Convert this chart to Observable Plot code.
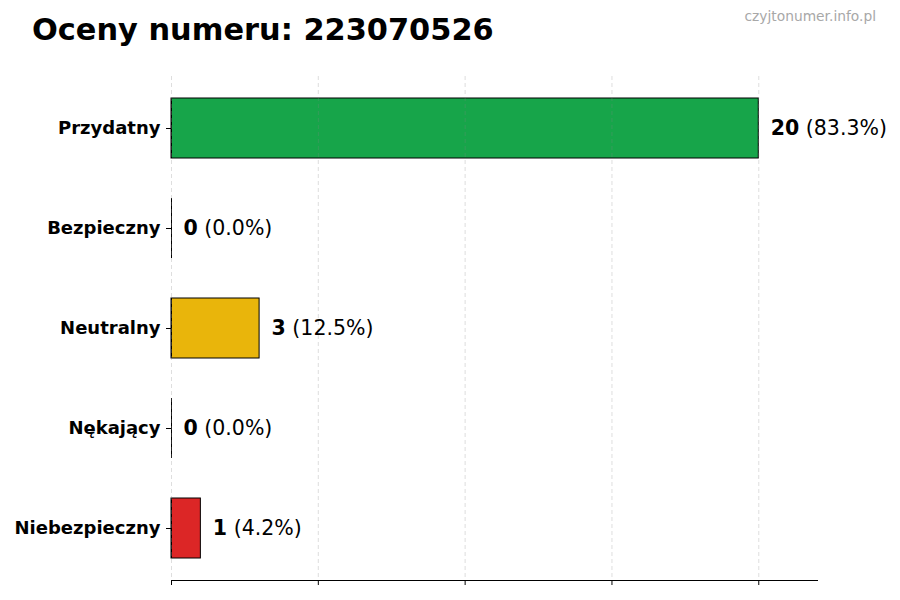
<!DOCTYPE html>
<html>
<head>
<meta charset="utf-8">
<script src="https://cdn.jsdelivr.net/npm/d3@7"></script>
<script src="https://cdn.jsdelivr.net/npm/@observablehq/plot@0.6"></script>
<style>
  body { margin: 0; background: #fff; font-family: "DejaVu Sans", sans-serif; }
  #wrap { width: 900px; }
  #head { position: relative; height: 60px; width: 900px; }
  #title { position: absolute; left: 32px; top: 15px; font-size: 30.4px; font-weight: bold; color: #000; line-height: 1; white-space: nowrap; }
  #mark { position: absolute; right: 24px; top: 10px; font-size: 13.8px; color: #a8a8a8; line-height: 1; white-space: nowrap; }
</style>
</head>
<body>
<div id="wrap">
  <div id="head">
    <div id="title">Oceny numeru: 223070526</div>
    <div id="mark">czyjtonumer.info.pl</div>
  </div>
  <div id="chart"></div>
</div>
<script>
const categories = ["Przydatny", "Bezpieczny", "Neutralny", "Nękający", "Niebezpieczny"];
const values = [20, 0, 3, 0, 1];
const colors = ["#17a54a", "#9ca3af", "#e9b50b", "#f97316", "#dc2626"];
const xTicks = [0, 5, 10, 15, 20];

const total = d3.sum(values);
const data = categories.map((c, i) => ({
  cat: c,
  value: values[i],
  color: colors[i],
  label: `${values[i]} (${(values[i] / total * 100).toFixed(1)}%)`
}));

const plot = Plot.plot({
  width: 900,
  height: 540,
  marginTop: 16,
  marginBottom: 20,
  marginLeft: 171,
  marginRight: 83,
  style: { fontFamily: "DejaVu Sans, sans-serif", background: "#fff", color: "#000" },
  x: { domain: [0, 22], axis: null, label: null },
  y: { domain: categories, paddingInner: 0.4, paddingOuter: 0.22, axis: null, label: null },
  marks: [
    Plot.barX(data, { x: "value", y: "cat", fill: "color", stroke: "#000", strokeWidth: 1 }),
    Plot.tickX(data, { x: () => 0, y: "cat", stroke: "#000", strokeWidth: 1 }),
    Plot.gridX(xTicks, { stroke: "#888", strokeOpacity: 0.35, strokeDasharray: "4,3", strokeWidth: 0.8 }),
    Plot.axisX(xTicks, { anchor: "bottom", tickSize: 5, tickFormat: () => "", stroke: "#000", label: null }),
    Plot.frame({ anchor: "bottom", stroke: "#000" }),
    Plot.axisY({ anchor: "left", tickSize: 5, tickPadding: 6, fontSize: 18, fontWeight: "bold", fill: "#000", stroke: "#000", label: null }),
    Plot.text(data, { x: "value", y: "cat", text: "label", dx: 12, textAnchor: "start", fontSize: 20.5, fill: "#000" })
  ]
});

document.getElementById("chart").appendChild(plot);

// Make the count bold and the percentage regular
d3.select(plot).selectAll("text").each(function () {
  const t = d3.select(this);
  const s = t.text();
  if (!/^\d+ \(.*%\)$/.test(s)) return;
  const i = s.indexOf(" ");
  t.text(null);
  t.append("tspan").attr("font-weight", "bold").text(s.slice(0, i));
  t.append("tspan").text(s.slice(i));
});
</script>
</body>
</html>
